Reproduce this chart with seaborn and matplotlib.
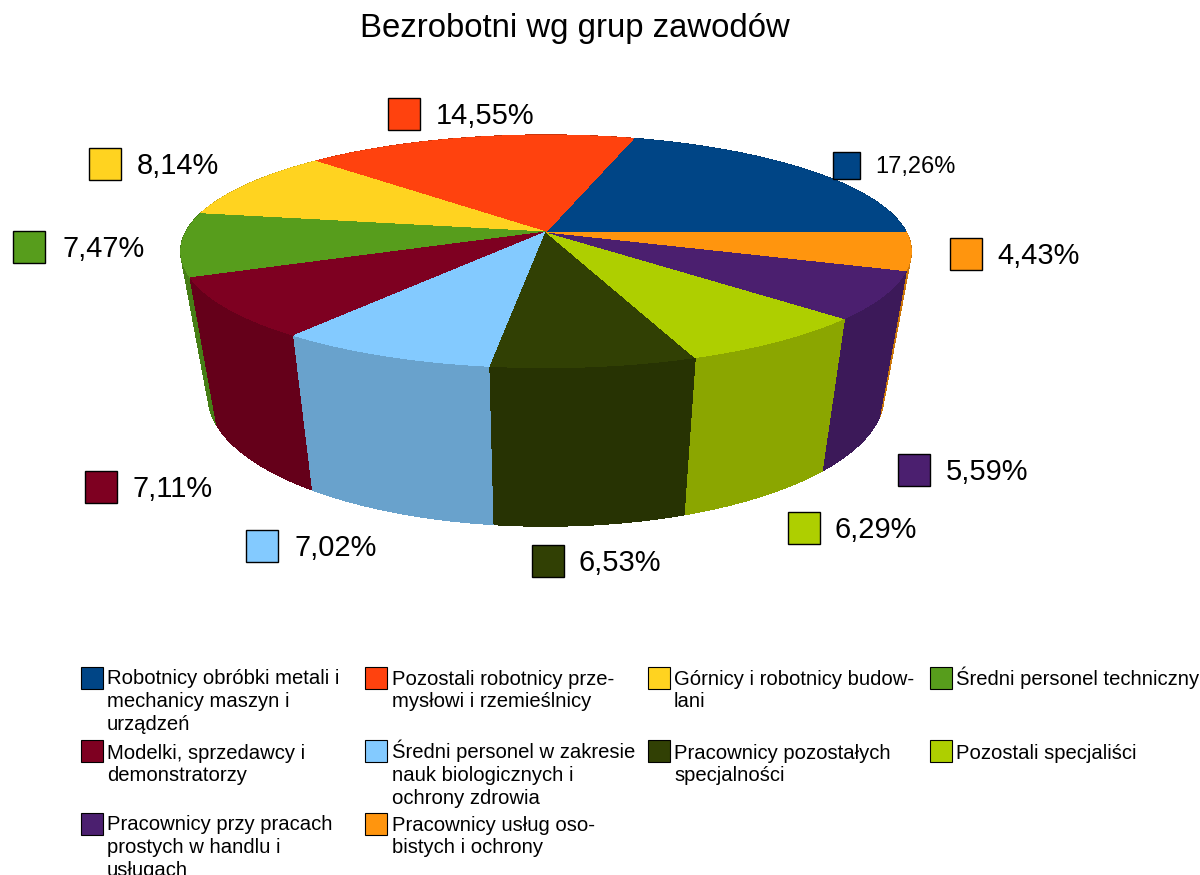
import numpy as np
import matplotlib
matplotlib.use("Agg")
import matplotlib.pyplot as plt
from matplotlib.collections import PolyCollection
from matplotlib.patches import Rectangle
import seaborn as sns

title = "Bezrobotni wg grup zawodów"
values = [17.26, 14.55, 8.14, 7.47, 7.11, 7.02, 6.53, 6.29, 5.59, 4.43]
names = [
    "Robotnicy obróbki metali i\nmechanicy maszyn i\nurządzeń",
    "Pozostali robotnicy prze-\nmysłowi i rzemieślnicy",
    "Górnicy i robotnicy budow-\nlani",
    "Średni personel techniczny",
    "Modelki, sprzedawcy i\ndemonstratorzy",
    "Średni personel w zakresie\nnauk biologicznych i\nochrony zdrowia",
    "Pracownicy pozostałych\nspecjalności",
    "Pozostali specjaliści",
    "Pracownicy przy pracach\nprostych w handlu i\nusługach",
    "Pracownicy usług oso-\nbistych i ochrony",
]
colors = ["#004586", "#FF420E", "#FFD320", "#579D1C", "#7E0021",
          "#83CAFF", "#314004", "#AECF00", "#4B1F6F", "#FF950E"]

# layout (pixel coordinates)
label_sq_x = [833, 388, 89, 13, 85, 246, 532, 788, 898, 950]
label_sq_y = [152, 98, 148, 231, 471, 530, 545, 512, 454, 238]
label_sq_s = [27, 32, 32, 32, 32, 32, 32, 32, 32, 32]
label_tx_x = [875, 436, 137, 62, 133, 295, 579, 835, 946, 997]
label_fs = [17, 20.9, 20.9, 20.9, 20.9, 20.9, 20.9, 20.9, 20.9, 20.9]
leg_sq_x = [81, 365, 648, 930]
leg_tx_x = [107, 392, 674, 956]
leg_row_y = [667, 740, 813]
leg_base_y = [685, 759, 831]
LEG_LINE_PX = 22.4

CX, CY, B, A, K = 546, 232, 360, 113, 0.167
WALL_SX, WALL_DY, WALL_SY = 0.925, 142, 1.12

sns.set_theme(style="white")
plt.rcParams["font.family"] = ["Liberation Sans", "DejaVu Sans"]
palette = sns.color_palette(colors)


def project(theta):
    u, v = np.cos(theta), -np.sin(theta)
    d = 1 - K * v
    return CX + B * u / d, CY + A * v / d


def lower(x, y):
    return CX + WALL_SX * (x - CX), CY + WALL_DY + WALL_SY * (y - CY)


fig = plt.figure(figsize=(12, 8.75), dpi=100, facecolor="white")
ax = fig.add_axes([0, 0, 1, 1])
ax.set_xlim(0, 1200)
ax.set_ylim(875, 0)
ax.axis("off")

edges = np.radians(np.concatenate([[0], np.cumsum(values)]) / sum(values) * 360)
spans = list(zip(edges[:-1], edges[1:]))

# outer walls, far slices first; each wall is a run of narrow strips so that
# the silhouette of the drum is covered as well
order = sorted(range(len(values)), key=lambda i: project((spans[i][0] + spans[i][1]) / 2)[1])
for z, i in enumerate(order):
    t = np.linspace(spans[i][0], spans[i][1], 80)
    x, y = project(t)
    xb, yb = lower(x, y)
    strips = [[(x[j], y[j]), (x[j + 1], y[j + 1]), (xb[j + 1], yb[j + 1]), (xb[j], yb[j])]
              for j in range(len(t) - 1)]
    wall = tuple(c * 0.8 for c in palette[i])
    ax.add_collection(PolyCollection(strips, facecolors=[wall], edgecolors=[wall], linewidths=0.5,
                                     antialiaseds=False, zorder=2 + z * 0.01))

# top surface
for i in range(len(values)):
    t = np.linspace(spans[i][0], spans[i][1], 160)
    x, y = project(t)
    ax.fill(np.r_[CX, x], np.r_[CY, y], color=palette[i], lw=0,
            antialiased=False, zorder=3)

# percentage labels
for i, v in enumerate(values):
    s = label_sq_s[i]
    ax.add_patch(Rectangle((label_sq_x[i], label_sq_y[i]), s, s, facecolor=palette[i],
                           edgecolor="black", lw=1, zorder=4))
    ax.text(label_tx_x[i], label_sq_y[i] + s / 2 + 2, f"{v:.2f}%".replace(".", ","),
            fontsize=label_fs[i], color="black", va="center", ha="left", zorder=4)

ax.text(575, 28, title, fontsize=23.7, color="black", ha="center", va="center")

# legend, filled row by row; the text anchor is the baseline of the last line
for i, name in enumerate(names):
    row, col = divmod(i, 4)
    ax.add_patch(Rectangle((leg_sq_x[col], leg_row_y[row]), 22, 22, facecolor=palette[i],
                           edgecolor="black", lw=0.8, zorder=4))
    ax.text(leg_tx_x[col], leg_base_y[row] + name.count("\n") * LEG_LINE_PX, name,
            fontsize=14.6, color="black", ha="left", va="baseline", linespacing=1.25)

fig.savefig("out.png", dpi=100, facecolor="white")
